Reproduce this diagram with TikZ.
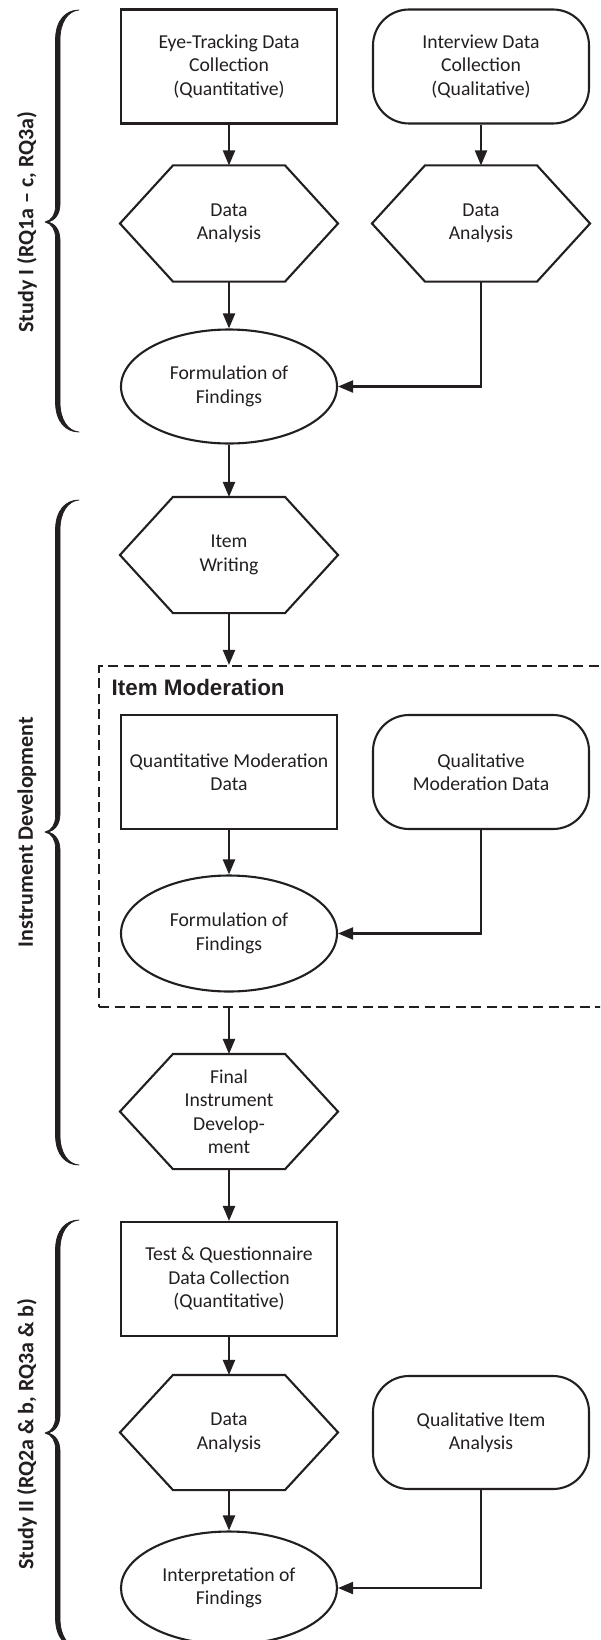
\documentclass[tikz,border=0pt]{standalone}
\usepackage{fontspec}
\setmainfont{Carlito}
\newfontfamily\arialbold{Liberation Sans}
\usetikzlibrary{arrows.meta,shapes.geometric}
\definecolor{ink}{RGB}{35,31,32}
% calligraphic curly brace: top y, tip y, bottom y
\newcommand{\mybrace}[3]{%
  \filldraw[bracestyle]
    (79,#1) .. controls (66,#1) and (55.5,#1+10) .. (55.5,#1+30)
    -- (55.5,#2-16) .. controls (55.5,#2-8) and (52,#2-1.5) .. (45,#2)
    .. controls (52,#2+1.5) and (55.5,#2+8) .. (55.5,#2+16)
    -- (55.5,#3-30) .. controls (55.5,#3-10) and (66,#3) .. (79,#3)
    .. controls (68,#3-1) and (60,#3-12) .. (60,#3-30)
    -- (60,#2+18) .. controls (60,#2+8) and (55,#2+1) .. (47,#2)
    .. controls (55,#2-1) and (60,#2-8) .. (60,#2-18)
    -- (60,#1+30) .. controls (60,#1+12) and (68,#1+1) .. (79,#1) -- cycle;}
\tikzset{
  lw/.style={line width=2.1pt, draw=ink},
  boxnode/.style={lw, rectangle, minimum width=216pt, minimum height=114pt, inner sep=0pt, align=center, text=ink, font=\fontsize{19.7pt}{23.5pt}\selectfont},
  roundnode/.style={boxnode, rounded corners=36pt},
  hexnode/.style={boxnode, draw=none},
  ellnode/.style={boxnode, ellipse},
  arr/.style={lw, -{Triangle[length=15pt,width=12pt]}},
  bracestyle/.style={line width=0.7pt, draw=ink, fill=ink, line join=round},
  sidelabel/.style={rotate=90, text=ink, font=\fontsize{22pt}{26pt}\selectfont\bfseries},
}
\begin{document}
\begin{tikzpicture}[x=1pt,y=-1pt]
\useasboundingbox (0,0) rectangle (600,1640);
\clip (0,0) rectangle (600,1640);
\fill[white] (0,0) rectangle (600,1640);

% Study I
\node[boxnode]   (b1) at (229,66.5) {Eye-Tracking Data\\Collection\\(Quantitative)};
\node[roundnode] (r1) at (481,66.5) {Interview Data\\Collection\\(Qualitative)};
\node[hexnode]   (h1) at (229,223.5) {Data\\Analysis};
\node[hexnode]   (h2) at (481,223.5) {Data\\Analysis};
\node[ellnode]   (e1) at (229,386.5) {Formulation of\\Findings};

% Instrument development
\node[hexnode]   (iw) at (229,555) {Item\\Writing};
\node[lw, dashed, dash pattern=on 10pt off 5.5pt, rectangle, minimum width=521pt, minimum height=341pt, inner sep=0pt] (mod) at (359.5,836.5) {};
\node[anchor=base west, text=ink, font=\arialbold\fontsize{22.4pt}{26pt}\selectfont\bfseries, inner sep=0pt] (modtitle) at (111.5,695) {Item Moderation};
\node[boxnode]   (b2) at (229,772) {Quantitative Moderation\\Data};
\node[roundnode] (r2) at (481,772) {Qualitative\\Moderation Data};
\node[ellnode, minimum height=116pt] (e2) at (229,933.5) {Formulation of\\Findings};
\node[hexnode, minimum height=113pt] (fid) at (229,1111.5) {Final\\Instrument\\Develop-\\ment};

% Study II
\node[boxnode]   (b3) at (229,1279) {Test \& Questionnaire\\Data Collection\\(Quantitative)};
\node[hexnode, minimum height=113pt] (h3) at (229,1432.5) {Data\\Analysis};
\node[roundnode, minimum height=113pt] (r3) at (481,1432.5) {Qualitative Item\\Analysis};
\node[ellnode, minimum height=113pt] (e3) at (229,1588) {Interpretation of\\Findings};

% hexagon outlines
\foreach \n in {h1,h2,iw,fid,h3}{
  \draw[lw, line join=miter] ([xshift=53pt]\n.north west) -- ([xshift=-53pt]\n.north east) -- (\n.east)
    -- ([xshift=-53pt]\n.south east) -- ([xshift=53pt]\n.south west) -- (\n.west) -- cycle;
}

% connectors
\draw[arr] (b1) -- (h1);
\draw[arr] (r1) -- (h2);
\draw[arr] (h1) -- (e1);
\draw[arr] (h2.south) |- (e1.east);
\draw[arr] (e1) -- (iw);
\draw[arr] (iw) -- (iw |- mod.north);
\draw[arr] (b2) -- (e2);
\draw[arr] (r2.south) |- (e2.east);
\draw[arr] (mod.south -| fid) -- (fid);
\draw[arr] (fid) -- (b3);
\draw[arr] (b3) -- (h3);
\draw[arr] (h3) -- (e3);
\draw[arr] (r3.south) |- (e3.east);

% braces and labels
\mybrace{10}{222}{432}
\mybrace{500}{832}{1165}
\mybrace{1220}{1433}{1648}
\node[sidelabel] (l1) at (27,222) {Study I (RQ1a – c, RQ3a)};
\node[sidelabel] (l2) at (27,832) {Instrument Development};
\node[sidelabel] (l3) at (27,1434) {Study II (RQ2a \& b, RQ3a \& b)};
\end{tikzpicture}
\end{document}
